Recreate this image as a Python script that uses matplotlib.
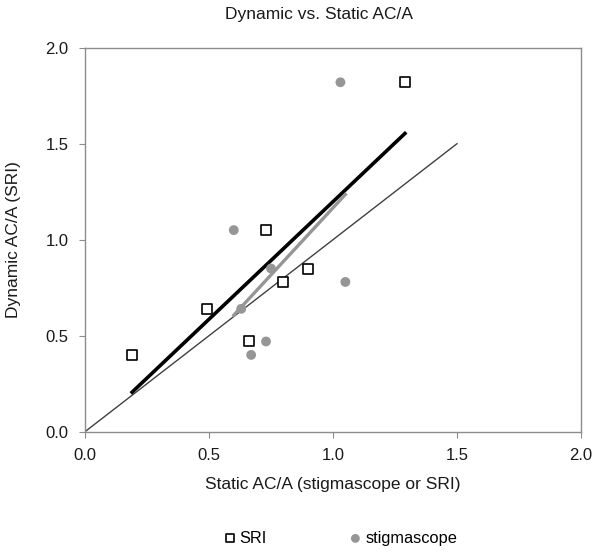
import matplotlib
matplotlib.use("Agg")
import matplotlib.pyplot as plt
import numpy as np

plt.rcParams['font.family'] = ['Liberation Sans', 'DejaVu Sans']

# data
sri_x = [0.19, 0.49, 0.66, 0.73, 0.80, 0.90, 1.29]
sri_y = [0.40, 0.64, 0.47, 1.05, 0.78, 0.85, 1.82]
stig_x = [0.60, 0.75, 0.63, 0.67, 0.73, 1.03, 1.05]
stig_y = [1.05, 0.85, 0.64, 0.40, 0.47, 1.82, 0.78]
unity_x = [0.0, 1.5]
unity_y = [0.0, 1.5]
ticks = [0.0, 0.5, 1.0, 1.5, 2.0]

gray = '#969696'
txt = '#1a1a1a'

fig = plt.figure(figsize=(6.01, 5.52), dpi=100)
ax = fig.add_axes([0.1414, 0.2179, 0.8253, 0.6957])

# line of equality
ax.plot(unity_x, unity_y, color='#404040', lw=1.0, zorder=1)

# linear trendlines over each series' range
p1 = np.polyfit(sri_x, sri_y, 1)
xs1 = np.array([min(sri_x), max(sri_x)])
ax.plot(xs1, np.polyval(p1, xs1), color='black', lw=2.6, zorder=2)
p2 = np.polyfit(stig_x, stig_y, 1)
xs2 = np.array([min(stig_x), max(stig_x)])
ax.plot(xs2, np.polyval(p2, xs2), color=gray, lw=2.4, zorder=3)

ax.scatter(sri_x, sri_y, marker='s', s=42, facecolor='white', edgecolor='black',
           linewidth=1.2, label='SRI', zorder=4)
ax.scatter(stig_x, stig_y, marker='o', s=50, facecolor=gray, edgecolor='none',
           label='stigmascope', zorder=4)

ax.set_xlim(0, 2)
ax.set_ylim(0, 2)
ax.set_xticks(ticks)
ax.set_yticks(ticks)
ax.set_xticklabels(['%.1f' % t for t in ticks])
ax.set_yticklabels(['%.1f' % t for t in ticks])
for s in ax.spines.values():
    s.set_color('#8c8c8c')
    s.set_linewidth(1.0)
ax.tick_params(direction='out', length=4, color='#8c8c8c', labelsize=12,
               labelcolor=txt, pad=8)

ax.set_xlabel('Static AC/A (stigmascope or SRI)', fontsize=12.5, color=txt)
ax.set_ylabel('Dynamic AC/A (SRI)', fontsize=12.5, color=txt)
ax.xaxis.set_label_coords(0.5, -0.118)
ax.yaxis.set_label_coords(-0.129, 0.5)
fig.text(0.531, 1 - 19 / 552, 'Dynamic vs. Static AC/A', ha='center', va='baseline',
         fontsize=12.5, color=txt)

fig.legend(loc='center', bbox_to_anchor=(0.566, 0.025), ncol=2, frameon=False,
           fontsize=11.8, handlelength=0.8, handletextpad=0.2, columnspacing=5.0,
           markerscale=0.9)

fig.savefig('out.png', dpi=100)
